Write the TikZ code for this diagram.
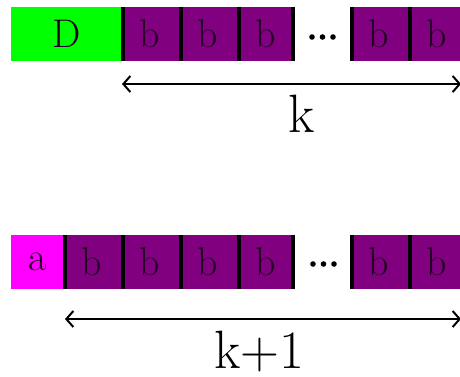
\documentclass[tikz,border=0pt]{standalone}
\usetikzlibrary{arrows.meta}
\definecolor{grn}{RGB}{0,255,0}
\definecolor{pur}{RGB}{128,0,128}
\definecolor{mag}{RGB}{255,0,255}
\definecolor{txt}{RGB}{35,0,35}
\begin{document}
\begin{tikzpicture}[x=1pt,y=-1pt,
  cellbox/.style={fill=pur,draw=none,minimum width=58pt,minimum height=54pt,inner sep=0pt,anchor=north west,text=txt,font=\fontsize{40}{44}\selectfont},
  bar/.style={line width=4pt,black},
  dimarrow/.style={line width=2pt,{Straight Barb[length=7pt,width=16pt]}-{Straight Barb[length=7pt,width=16pt]}},
  biglabel/.style={anchor=base,inner sep=0pt,font=\fontsize{54}{58}\selectfont},
  dotmark/.style={fill=black,draw=none}]
\useasboundingbox (0,0) rectangle (460,376);
% top row
\node[cellbox,fill=grn,minimum width=110pt] (D) at (11,7) {D};
\node[cellbox] (t1) at (121,7) {b};
\node[cellbox] (t2) at (179,7) {b};
\node[cellbox] (t3) at (237,7) {b};
\node[cellbox] (t4) at (350,7) {b};
\node[cellbox] (t5) at (408,7) {b};
\foreach \n in {t1,t2,t3,t4,t5}{\draw[bar] ([xshift=2pt]\n.north west) -- ([xshift=2pt]\n.south west);}
\draw[bar] ([xshift=-2pt]t3.north east) -- ([xshift=-2pt]t3.south east);
\foreach \x in {312,322.5,333}{\fill[dotmark] (\x,37) circle (2.8);}
\coordinate (ka) at (122,84);
\coordinate (kb) at (461,84);
\draw[dimarrow] (ka) -- (kb);
\node[biglabel] (k) at (302,132) {k};
% bottom row
\node[cellbox,fill=mag,minimum width=52pt] (a) at (11,235) {a};
\node[cellbox] (u1) at (63,235) {b};
\node[cellbox] (u2) at (121,235) {b};
\node[cellbox] (u3) at (179,235) {b};
\node[cellbox] (u4) at (237,235) {b};
\node[cellbox] (u5) at (350,235) {b};
\node[cellbox] (u6) at (408,235) {b};
\foreach \n in {u1,u2,u3,u4,u5,u6}{\draw[bar] ([xshift=2pt]\n.north west) -- ([xshift=2pt]\n.south west);}
\draw[bar] ([xshift=-2pt]u4.north east) -- ([xshift=-2pt]u4.south east);
\foreach \x in {313,323.5,334}{\fill[dotmark] (\x,264) circle (2.8);}
\coordinate (ma) at (65,319);
\coordinate (mb) at (461,319);
\draw[dimarrow] (ma) -- (mb);
\node[biglabel] (k1) at (259,368) {k+1};
\end{tikzpicture}
\end{document}
